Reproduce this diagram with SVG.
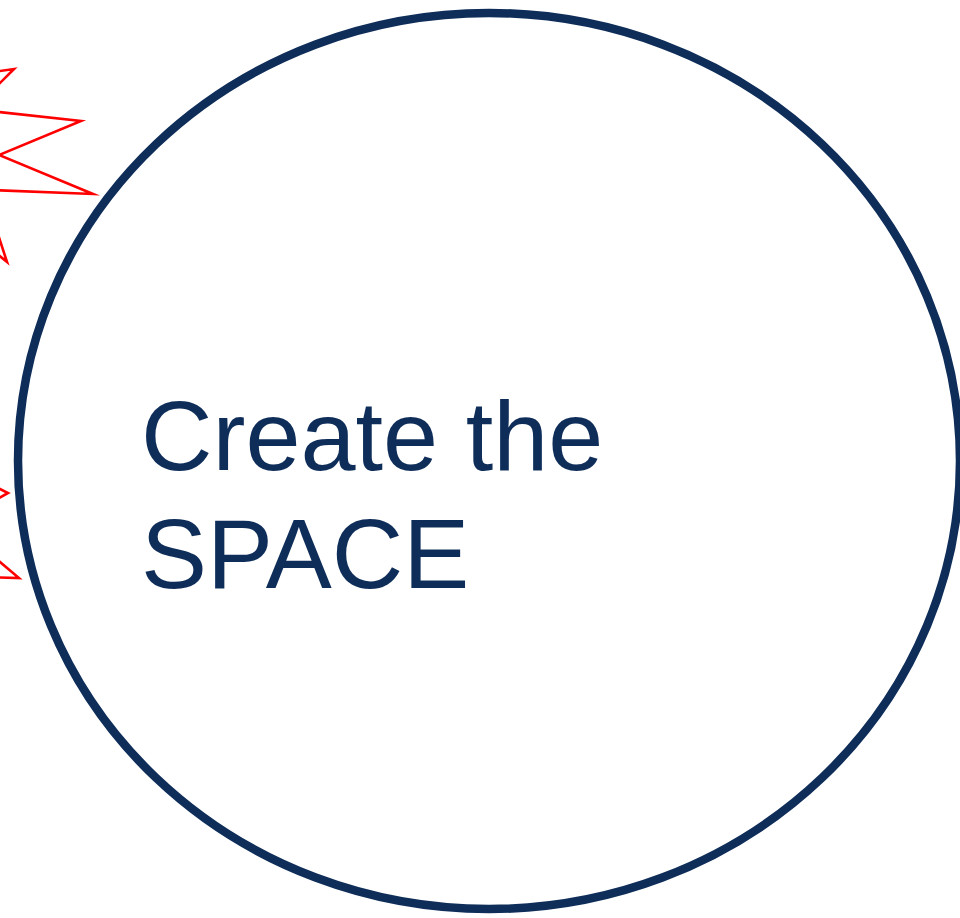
<svg xmlns="http://www.w3.org/2000/svg" width="960" height="918" viewBox="0 0 960 918">
<style>
.star{fill:none;stroke:#ff0000;stroke-width:2.6;stroke-linejoin:miter;stroke-miterlimit:20}
.ring{fill:#ffffff;stroke:#0e2d59;stroke-width:8.5}
.lbl{font-family:"Liberation Sans",Arial,sans-serif;font-size:99px;fill:#0e2d59}
</style>
<rect width="960" height="918" fill="#ffffff"/>
<g id="burst">
<path class="star" d="M -20 74 L 14 69 L -10 93 M -10 111 L 81 121 L -1 155 L 93 194 L -10 190 M -6 222 L 7 262 L -10 248 M -10 484 L 8 493 L -10 503 M -20 545 L 19 578 L -20 577"/>
</g>
<g id="space">
<ellipse class="ring" cx="489" cy="461" rx="471" ry="448"/>
<text class="lbl" x="141" y="470">Create the</text>
<text class="lbl" x="141" y="588">SPACE</text>
</g>
</svg>
